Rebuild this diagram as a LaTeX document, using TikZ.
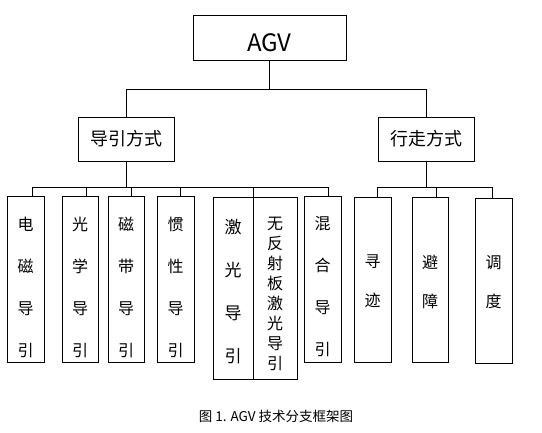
\documentclass[tikz,border=0pt]{standalone}
\usepackage{fontspec}
\setmainfont{Noto Sans CJK SC}

\begin{document}
\begin{tikzpicture}[x=1pt, y=-1pt, line width=0.8pt,
    box/.style={draw, inner sep=0pt, align=center},
    headbox/.style={box, minimum width=96pt, minimum height=44pt,
                    font=\fontsize{18}{22}\selectfont},
    leafbox/.style={draw, inner sep=0pt, minimum width=37pt, minimum height=166pt},
    leaftext/.style={align=center, inner sep=0pt, yshift=-8pt,
                     font=\fontsize{16}{42}\selectfont},
    walktext/.style={align=center, inner sep=0pt, yshift=-2pt,
                     font=\fontsize{16}{39}\selectfont}]
  \useasboundingbox (0,0) rectangle (542,432);

  % root and the two branches
  \node[box, minimum width=153pt, minimum height=45pt,
        font=\fontsize{24}{28}\selectfont,
        label={[font=\fontsize{24}{28}\selectfont, yshift=-5pt]center:AGV}]
        (agv) at (269.5,37.5) {};
  \node[headbox] (guide) at (126,139) {导引方式};
  \node[headbox] (walk) at (426.5,139) {行走方式};

  % guidance leaves
  \node[leafbox, label={[leaftext]center:电\\磁\\导\\引}] (em) at (25.5,279) {};
  \node[leafbox, minimum width=36pt,
        label={[leaftext]center:光\\学\\导\\引}] (optic) at (80,279) {};
  \node[leafbox, minimum width=36pt,
        label={[leaftext]center:磁\\带\\导\\引}] (magtape) at (126,279) {};
  \node[leafbox, label={[leaftext]center:惯\\性\\导\\引}] (inertia) at (175.5,279) {};
  \node[leafbox, minimum width=40pt, minimum height=182pt,
        label={[leaftext, yshift=4pt, font=\fontsize{17}{43}\selectfont]center:激\\光\\导\\引}]
        (laser) at (233,288) {};
  \node[leafbox, minimum width=44pt, minimum height=182pt,
        label={[leaftext, yshift=2pt, font=\fontsize{16}{20}\selectfont]center:无\\反\\射\\板\\激\\光\\导\\引}]
        (nrlaser) at (275,288) {};
  \node[leafbox, label={[leaftext]center:混\\合\\导\\引}] (hybrid) at (322.5,279) {};

  % walking leaves
  \node[leafbox, minimum height=165pt,
        label={[walktext]center:寻\\迹}] (track) at (372.5,279.5) {};
  \node[leafbox, minimum width=36pt, minimum height=165pt,
        label={[walktext]center:避\\障}] (avoid) at (430,279.5) {};
  \node[leafbox, minimum height=165pt,
        label={[walktext]center:调\\度}] (sched) at (493.5,280.5) {};

  % connectors
  \draw (agv.south) -- ++(0,29) -| (guide.north);
  \draw (agv.south) -- ++(0,29) -| (walk.north);
  \foreach \n/\dx in {em/6.5, optic/6, magtape/5, inertia/4.5, hybrid/5.5}
    \draw (guide.south) -- ++(0,26) -| ([xshift=\dx pt]\n.north);
  \draw (guide.south) -- ++(0,26) -| (laser.north east);
  \foreach \n/\dx in {track/4.5, avoid/6, sched/-1.5}
    \draw (walk.south) -- ++(0,26) -| ([xshift=\dx pt]\n.north);

  \node[font=\fontsize{13.5}{16}\selectfont] (caption) at (276,416)
       {图 1. AGV 技术分支框架图};
\end{tikzpicture}
\end{document}
